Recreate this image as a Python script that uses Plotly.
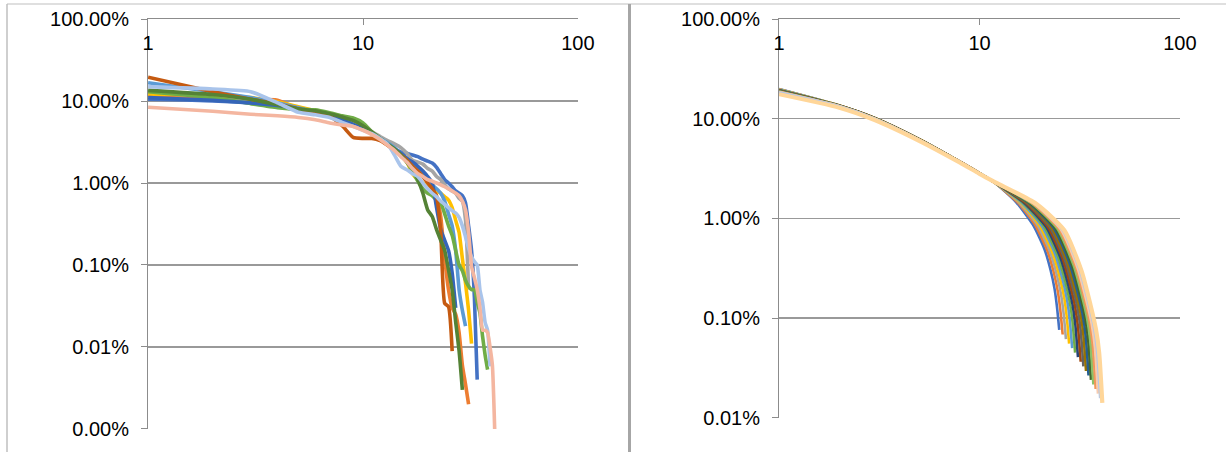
import plotly.graph_objects as go

W, H = 1226, 452

# ---------------- axis ticks ----------------
X_TICKS = [1, 10, 100]
X_TICK_TEXT = ["1", "10", "100"]
LEFT_Y_TICKS = [1e-5, 1e-4, 1e-3, 1e-2, 1e-1, 1]
LEFT_Y_TEXT = ["0.00%", "0.01%", "0.10%", "1.00%", "10.00%", "100.00%"]
RIGHT_Y_TICKS = [1e-4, 1e-3, 1e-2, 1e-1, 1]
RIGHT_Y_TEXT = ["0.01%", "0.10%", "1.00%", "10.00%", "100.00%"]

# ---------------- left panel: empirical series (values in %, rank 1..N) ----------------
left_blue = [10.5, 10.0, 9.4, 8.6, 7.8, 7.2, 6.6, 6.0, 5.4, 4.7, 4.0, 3.5, 3.1, 2.6, 2.4, 2.3, 2.2,
             2.1, 1.95, 1.85, 1.75, 1.55, 1.3, 1.1, 1.0, 0.9, 0.8, 0.75, 0.7, 0.57, 0.3, 0.15, 0.04, 0.004]
left_orange = [11.8, 11.0, 10.5, 10.2, 8.0, 7.4, 6.8, 6.1, 5.3, 4.6, 4.0, 3.4, 2.9, 2.5, 2.2, 1.9, 1.7,
               1.5, 1.3, 1.1, 0.95, 0.7, 0.39, 0.12, 0.05, 0.03, 0.025, 0.015, 0.006, 0.0035, 0.002]
left_gray = [12.5, 11.5, 10.2, 9.0, 7.9, 7.2, 6.6, 6.0, 5.4, 4.8, 4.2, 3.7, 3.3, 3.0, 2.7, 2.3, 1.9,
             1.8, 1.7, 1.5, 1.4, 1.2, 1.1, 0.95, 0.85, 0.8, 0.75, 0.65, 0.6, 0.35, 0.05]
left_yellow = [12.2, 11.8, 11.0, 9.8, 8.5, 7.6, 6.8, 6.1, 5.3, 4.6, 4.0, 3.5, 3.0, 2.6, 2.2, 1.8, 1.3,
               1.1, 1.0, 0.95, 0.85, 0.8, 0.75, 0.68, 0.62, 0.5, 0.35, 0.25, 0.12, 0.06, 0.028, 0.011]
left_lightblue = [16.7, 13.0, 11.0, 9.5, 8.3, 7.4, 6.6, 5.9, 5.2, 4.6, 4.0, 3.5, 3.1, 2.7, 2.3, 2.0, 1.7,
                  1.5, 1.3, 1.1, 0.95, 0.85, 0.75, 0.6, 0.42, 0.3, 0.15, 0.05, 0.028, 0.018]
left_green = [13.0, 11.0, 9.3, 8.3, 7.9, 7.8, 7.2, 6.6, 6.2, 5.4, 4.2, 3.5, 3.0, 2.6, 2.2, 1.8, 1.4,
              1.05, 0.85, 0.75, 0.7, 0.62, 0.57, 0.42, 0.3, 0.23, 0.15, 0.1, 0.085, 0.065, 0.055,
              0.05, 0.05, 0.035, 0.026, 0.0135, 0.008, 0.0053]
left_darkblue = [11.0, 10.2, 9.5, 8.8, 8.0, 7.3, 6.6, 5.9, 5.2, 4.6, 4.0, 3.5, 3.0, 2.6, 2.3, 2.0, 1.8,
                 1.6, 1.4, 1.2, 1.0, 0.5, 0.27, 0.2, 0.15, 0.08, 0.03]
left_darkorange = [19.5, 13.0, 10.5, 9.2, 8.0, 7.2, 6.5, 5.0, 3.6, 3.5, 3.5, 3.3, 2.9, 2.5, 2.2, 1.9,
                   1.6, 1.4, 1.2, 1.0, 0.85, 0.68, 0.25, 0.034, 0.031, 0.0089]
left_darkgreen = [13.5, 12.0, 10.5, 9.0, 8.0, 7.6, 7.0, 6.4, 5.8, 5.0, 4.2, 3.5, 3.0, 2.6, 2.2, 1.8,
                  1.5, 1.1, 0.75, 0.47, 0.39, 0.27, 0.2, 0.15, 0.087, 0.05, 0.02, 0.009, 0.003]
left_paleblue = [15.0, 14.0, 13.0, 9.5, 7.3, 6.8, 6.3, 5.5, 4.9, 4.4, 4.0, 3.5, 3.0, 2.2, 1.6, 1.45,
                 1.3, 1.2, 1.0, 0.85, 0.75, 0.68, 0.6, 0.55, 0.5, 0.46, 0.43, 0.38, 0.3, 0.22, 0.16,
                 0.126, 0.11, 0.1, 0.05, 0.035, 0.02, 0.016, 0.0058]
left_salmon = [8.4, 7.5, 6.9, 6.6, 6.3, 5.9, 5.4, 5.1, 4.9, 4.4, 3.9, 3.4, 2.9, 2.5, 2.1, 1.8, 1.5,
               1.3, 1.2, 1.1, 1.05, 1.0, 0.95, 0.9, 0.85, 0.8, 0.75, 0.7, 0.6, 0.47, 0.25, 0.096,
               0.07, 0.05, 0.03, 0.016, 0.016, 0.015, 0.01, 0.006, 0.001]

LEFT_SERIES = [left_blue, left_orange, left_gray, left_yellow, left_lightblue, left_green,
               left_darkblue, left_darkorange, left_darkgreen, left_paleblue, left_salmon]
LEFT_COLORS = ["#4472C4", "#ED7D31", "#A5A5A5", "#FFC000", "#5B9BD5", "#70AD47",
               "#3565B8", "#C55A11", "#548235", "#A9C4EB", "#F4B6A0"]

# ---------------- right panel: fitted curves (values in %) ----------------
R_N = [25, 26, 27, 28, 29, 30, 31, 32, 33, 34, 35, 36, 37, 38, 39, 40, 41]
R_HEAD_X = [1, 2, 3, 5, 8, 10, 12]
R_AT1 = [19.9, 19.8, 19.7, 19.6, 19.5, 19.4, 19.3, 19.2, 19.1, 19.0, 18.9, 18.8, 18.7, 18.6, 18.5, 18.4, 17.6]
R_AT2 = [13.6, 13.58, 13.56, 13.54, 13.52, 13.5, 13.48, 13.46, 13.44, 13.42, 13.4, 13.38, 13.36, 13.34, 13.32, 13.3, 12.9]
R_AT3 = [10.2, 10.19, 10.17, 10.16, 10.14, 10.13, 10.11, 10.1, 10.08, 10.07, 10.05, 10.04, 10.02, 10.01, 9.99, 9.98, 9.7]
R_AT5 = [6.25, 6.24, 6.23, 6.23, 6.22, 6.21, 6.2, 6.19, 6.19, 6.18, 6.17, 6.16, 6.15, 6.15, 6.14, 6.13, 6.0]
R_AT8 = [3.7, 3.7, 3.69, 3.69, 3.69, 3.69, 3.68, 3.68, 3.68, 3.67, 3.67, 3.67, 3.66, 3.66, 3.66, 3.66, 3.62]
R_AT10 = [2.85, 2.85, 2.84, 2.84, 2.84, 2.83, 2.83, 2.83, 2.82, 2.82, 2.82, 2.82, 2.81, 2.81, 2.81, 2.80, 2.80]
R_AT12 = [2.25, 2.25, 2.26, 2.26, 2.26, 2.27, 2.27, 2.27, 2.28, 2.28, 2.28, 2.28, 2.29, 2.29, 2.29, 2.30, 2.30]

# tail readings: (rank, value %) pairs along each curve
R_TX1 = [15.25, 15.5, 15.75, 16.0, 16.25, 16.5, 16.75, 17.0, 17.25, 17.5, 17.75, 18.0, 18.25, 18.5, 18.75, 19.0, 19.25]
R_TY1 = [1.450, 1.446, 1.443, 1.439, 1.436, 1.432, 1.429, 1.425, 1.422, 1.418, 1.415, 1.411, 1.408, 1.404, 1.401, 1.397, 1.394]
R_TX2 = [18.5, 19.0, 19.5, 20.0, 20.5, 21.0, 21.5, 22.0, 22.5, 23.0, 23.5, 24.0, 24.5, 25.0, 25.5, 26.0, 26.5]
R_TY2 = [0.860, 0.853, 0.847, 0.840, 0.834, 0.827, 0.821, 0.815, 0.808, 0.802, 0.796, 0.790, 0.784, 0.778, 0.772, 0.766, 0.760]
R_TX3 = [21.1, 21.8, 22.5, 23.2, 23.9, 24.6, 25.3, 26.0, 26.7, 27.4, 28.1, 28.8, 29.5, 30.2, 30.9, 31.6, 32.3]
R_TY3 = [0.490, 0.475, 0.460, 0.446, 0.432, 0.419, 0.406, 0.394, 0.382, 0.370, 0.358, 0.347, 0.337, 0.326, 0.316, 0.307, 0.297]
R_TX4 = [22.66, 23.48, 24.3, 25.12, 25.94, 26.76, 27.58, 28.4, 29.22, 30.04, 30.86, 31.68, 32.5, 33.32, 34.14, 34.96, 35.78]
R_TY4 = [0.300, 0.286, 0.272, 0.259, 0.246, 0.234, 0.223, 0.212, 0.202, 0.192, 0.183, 0.174, 0.166, 0.158, 0.150, 0.143, 0.136]
R_TX5 = [23.7, 24.6, 25.5, 26.4, 27.3, 28.2, 29.1, 30.0, 30.9, 31.8, 32.7, 33.6, 34.5, 35.4, 36.3, 37.2, 38.1]
R_TY5 = [0.195, 0.184, 0.174, 0.164, 0.155, 0.146, 0.138, 0.130, 0.123, 0.116, 0.109, 0.103, 0.0973, 0.0918, 0.0867, 0.0818, 0.0773]
R_TX6 = [24.35, 25.3, 26.25, 27.2, 28.15, 29.1, 30.05, 31.0, 31.95, 32.9, 33.85, 34.8, 35.75, 36.7, 37.65, 38.6, 39.55]
R_TY6 = [0.130, 0.1216, 0.1137, 0.1064, 0.0995, 0.0931, 0.0871, 0.0815, 0.0762, 0.0713, 0.0667, 0.0624, 0.0583, 0.0546, 0.0510, 0.0477, 0.0446]
R_Y_END = [0.0759, 0.0683, 0.0615, 0.0553, 0.0498, 0.0449, 0.0404, 0.0364, 0.0327, 0.0294, 0.0265,
           0.0239, 0.0215, 0.0194, 0.0174, 0.0157, 0.0141]
RIGHT_COLORS = ["#4472C4", "#ED7D31", "#A5A5A5", "#FFC000", "#5B9BD5", "#70AD47", "#264478",
                "#9E480E", "#636363", "#997300", "#255E91", "#43682B", "#8CC168", "#F1975A",
                "#F8CBAD", "#B4C7E7", "#FFD699"]

FONT = "Liberation Sans, Arial, sans-serif"
GRID = "#999999"
AXIS = "#8C8C8C"

fig = go.Figure()

for vals, col in zip(LEFT_SERIES, LEFT_COLORS):
    fig.add_trace(go.Scatter(
        x=list(range(1, len(vals) + 1)), y=[v / 100 for v in vals],
        mode="lines", line=dict(color=col, width=3.6, shape="spline", smoothing=0.5),
        xaxis="x", yaxis="y", hoverinfo="skip"))

for k in range(len(R_N)):
    xs = R_HEAD_X + [R_TX1[k], R_TX2[k], R_TX3[k], R_TX4[k], R_TX5[k], R_TX6[k], R_N[k]]
    ys = [R_AT1[k], R_AT2[k], R_AT3[k], R_AT5[k], R_AT8[k], R_AT10[k], R_AT12[k],
          R_TY1[k], R_TY2[k], R_TY3[k], R_TY4[k], R_TY5[k], R_TY6[k], R_Y_END[k]]
    fig.add_trace(go.Scatter(
        x=xs, y=[v / 100 for v in ys], mode="lines",
        line=dict(color=RIGHT_COLORS[k], width=4.2 if k == len(R_N) - 1 else 2.6,
                  shape="spline", smoothing=0.6),
        xaxis="x2", yaxis="y2", hoverinfo="skip"))


def xax(domain, anchor):
    return dict(type="log", range=[-0.0005, 2.0005], domain=domain, anchor=anchor, side="top",
                tickvals=X_TICKS, ticktext=X_TICK_TEXT, ticks="inside", ticklen=6,
                tickcolor=AXIS, showline=True, linecolor=AXIS, linewidth=1,
                showgrid=False, zeroline=False, ticklabelposition="inside",
                ticklabeloverflow="allow", ticklabelstandoff=12, automargin=False,
                tickfont=dict(family=FONT, size=20, color="#000000"))


def yax(rng, domain, anchor, tv, tt):
    return dict(type="log", range=rng, domain=domain, anchor=anchor,
                tickvals=tv, ticktext=tt, ticks="outside", ticklen=6, tickcolor=AXIS,
                showline=True, linecolor=AXIS, linewidth=1, automargin=False,
                showgrid=True, gridcolor=GRID, gridwidth=1.3, zeroline=False,
                ticklabelstandoff=8, ticklabeloverflow="allow",
                tickfont=dict(family=FONT, size=20, color="#000000"))


fig.update_layout(
    width=W, height=H, margin=dict(l=0, r=0, t=0, b=0),
    paper_bgcolor="white", plot_bgcolor="white", showlegend=False,
    xaxis=xax([148 / W, 578 / W], "y"),
    yaxis=yax([-5.0005, 0.0005], [1 - 429 / H, 1 - 19 / H], "x", LEFT_Y_TICKS, LEFT_Y_TEXT),
    xaxis2=xax([779 / W, 1180 / W], "y2"),
    yaxis2=yax([-4.0005, 0.0005], [1 - 417.7 / H, 1 - 19 / H], "x2", RIGHT_Y_TICKS, RIGHT_Y_TEXT),
    shapes=[
        dict(type="line", xref="paper", yref="paper", x0=7 / W, x1=1, y0=1 - 4 / H, y1=1 - 4 / H,
             line=dict(color="#BFBFBF", width=1)),
        dict(type="line", xref="paper", yref="paper", x0=7 / W, x1=7 / W, y0=0, y1=1 - 4 / H,
             line=dict(color="#BFBFBF", width=1.5)),
        dict(type="line", xref="paper", yref="paper", x0=629.5 / W, x1=629.5 / W, y0=0, y1=1 - 4 / H,
             line=dict(color="#A6A6A6", width=3)),
    ],
)

fig.write_html("out.html", config={"displayModeBar": False, "staticPlot": True},
               post_script="document.body.style.margin='0';document.body.style.overflow='hidden';")
